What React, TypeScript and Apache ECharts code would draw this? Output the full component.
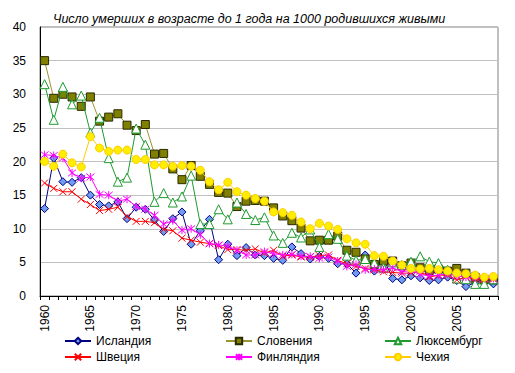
import React, { useEffect, useRef } from "react";
import * as echarts from "echarts";

const years: string[] = [];
for (let y = 1960; y <= 2009; y++) years.push(String(y));

const iceland = [13.0, 20.5, 17.0, 16.9, 17.6, 15.0, 13.6, 13.4, 14.0, 11.5, 13.2, 12.9, 11.3, 9.6, 11.5, 12.5, 7.7, 9.7, 11.4, 5.4, 7.7, 6.0, 7.2, 6.1, 6.0, 5.6, 5.3, 7.3, 6.3, 5.5, 5.9, 5.6, 4.8, 4.8, 3.4, 6.1, 3.7, 5.5, 2.6, 2.4, 3.0, 2.7, 2.3, 2.4, 2.8, 2.3, 1.4, 2.0, 2.5, 1.8];
const slovenia = [35.0, 29.4, 30.0, 29.6, 28.2, 29.6, 26.0, 26.6, 27.1, 25.4, 24.6, 25.5, 21.1, 21.2, 18.9, 17.3, 19.4, 17.8, 16.6, 15.4, 15.3, 13.3, 14.1, 14.2, 14.1, 13.1, 11.9, 11.2, 10.1, 8.2, 8.3, 8.3, 8.9, 6.8, 6.5, 5.5, 4.7, 5.2, 5.2, 4.5, 4.9, 4.2, 3.8, 4.0, 3.7, 4.1, 3.4, 2.8, 2.4, 2.4];
const luxembourg = [31.5, 26.2, 31.1, 28.5, 29.8, 24.3, 26.5, 20.5, 17.0, 17.6, 24.9, 22.5, 14.0, 15.3, 13.9, 14.8, 17.9, 10.7, 10.7, 12.9, 11.4, 13.9, 12.2, 11.3, 11.7, 9.0, 7.9, 9.4, 8.7, 9.9, 7.3, 9.2, 8.5, 6.0, 5.3, 5.5, 4.9, 4.2, 5.0, 4.6, 5.1, 5.9, 5.1, 4.9, 3.9, 2.6, 2.5, 1.8, 1.8, 2.5];
const sweden = [16.8, 16.0, 15.5, 15.5, 14.4, 13.6, 12.7, 12.9, 13.2, 11.8, 11.1, 11.1, 10.9, 9.9, 9.7, 8.6, 8.3, 8.0, 7.8, 7.5, 6.9, 6.9, 6.8, 7.0, 6.4, 6.8, 5.9, 6.1, 5.8, 5.8, 6.0, 6.1, 5.3, 4.8, 4.4, 4.1, 3.9, 3.6, 3.5, 3.4, 3.4, 3.7, 2.8, 3.1, 3.1, 2.4, 2.8, 2.5, 2.5, 2.5];
const finland = [21.0, 20.9, 20.5, 18.3, 17.5, 17.7, 15.1, 15.0, 14.1, 14.4, 13.3, 12.9, 12.0, 10.7, 11.2, 9.8, 10.0, 9.1, 7.8, 7.6, 7.4, 6.8, 6.1, 6.1, 6.6, 6.3, 6.1, 6.2, 5.9, 5.9, 5.6, 5.8, 5.2, 4.4, 4.7, 3.9, 4.0, 3.9, 4.2, 3.6, 3.8, 3.2, 3.0, 3.1, 3.3, 3.0, 2.8, 2.7, 2.6, 2.6];
const czech = [20.0, 19.3, 21.1, 19.8, 19.2, 23.7, 22.0, 21.5, 21.7, 21.7, 20.3, 20.3, 19.5, 19.5, 19.3, 19.4, 19.3, 18.7, 17.0, 15.8, 16.9, 15.5, 15.0, 14.5, 14.1, 12.5, 12.4, 12.0, 11.0, 10.0, 10.8, 10.4, 9.9, 8.5, 7.9, 7.7, 6.0, 5.9, 5.2, 4.6, 4.1, 4.0, 4.1, 3.9, 3.7, 3.4, 3.3, 3.1, 2.8, 2.9];

const titleText = "Число умерших в возрасте до 1 года на 1000 родившихся живыми";
const FONT = "Liberation Sans, Arial, sans-serif";

export default function App() {
  const ref = useRef<HTMLDivElement>(null);
  useEffect(() => {
    if (!ref.current) return;
    const chart = echarts.init(ref.current, null, { renderer: "svg" });
    const mk = (
      name: string,
      data: number[],
      line: string,
      symbol: string,
      size: number,
      fill: string,
      border: string,
      z: number
    ) => ({
      name,
      type: "line",
      data,
      symbol,
      symbolSize: size,
      showAllSymbol: true,
      z,
      lineStyle: { color: line, width: 1 },
      itemStyle: { color: fill, borderColor: border, borderWidth: 1, opacity: 1 },
      emphasis: { disabled: true },
    });
    const leg = (name: string, left: number, top: number) => ({
      data: [name],
      orient: "horizontal",
      left,
      top,
      padding: 0,
      itemWidth: 26,
      itemHeight: 8,
      textStyle: { fontSize: 12, color: "#000", fontFamily: FONT },
    });
    chart.setOption({
      animation: false,
      textStyle: { fontFamily: FONT },
      title: {
        text: titleText,
        left: 48,
        top: 7,
        textStyle: { fontSize: 12.5, fontStyle: "italic", fontWeight: "normal", color: "#000", fontFamily: FONT },
      },
      grid: {
        left: 40,
        right: 17,
        top: 27,
        bottom: 77,
        show: true,
        borderColor: "#808080",
        borderWidth: 1,
        backgroundColor: "transparent",
      },
      xAxis: {
        type: "category",
        data: years,
        boundaryGap: true,
        axisLine: { lineStyle: { color: "#000", width: 1 } },
        axisTick: { show: true, interval: 0, length: 4, lineStyle: { color: "#000" } },
        axisLabel: { interval: 4, rotate: 90, fontSize: 12, color: "#000", margin: 9, fontFamily: FONT },
        splitLine: { show: false },
      },
      yAxis: {
        type: "value",
        min: 0,
        max: 40,
        interval: 5,
        axisLine: { show: true, lineStyle: { color: "#000", width: 1 } },
        axisTick: { show: false },
        axisLabel: { fontSize: 12, color: "#000", margin: 14, fontFamily: FONT },
        splitLine: { lineStyle: { color: "#c0c0c0", width: 1 } },
      },
      legend: [
        leg("Исландия", 64, 335),
        leg("Швеция", 64, 351),
        leg("Словения", 225, 335),
        leg("Финляндия", 225, 351),
        leg("Люксембург", 384, 335),
        leg("Чехия", 384, 351),
      ],
      series: [
        mk("Исландия", iceland, "#000080", "diamond", 8, "#6f9cf0", "#000080", 2),
        mk("Словения", slovenia, "#9c9430", "rect", 8, "#808000", "#2a2a00", 3),
        mk("Люксембург", luxembourg, "#1f9a2f", "triangle", 9, "#ffffff", "#1f9a2f", 4),
        mk("Швеция", sweden, "#ff0000", "path://M0,0L10,10M10,0L0,10", 7, "#ff0000", "#ff0000", 5),
        mk("Финляндия", finland, "#ff00ff", "path://M0,0L10,10M10,0L0,10M5,-1L5,11", 8, "#ff00ff", "#ff00ff", 6),
        mk("Чехия", czech, "#ffcc00", "circle", 8, "#ffee00", "#ffcc00", 7),
      ],
    });
    return () => chart.dispose();
  }, []);
  return <div ref={ref} style={{ width: 515, height: 373, position: "absolute", left: 0, top: 0 }} />;
}
